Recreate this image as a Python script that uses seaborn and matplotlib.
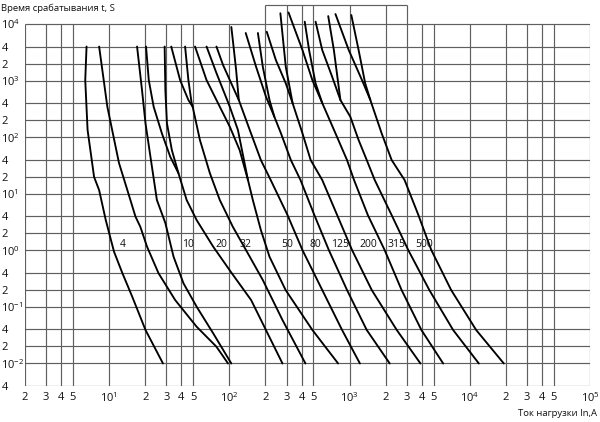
import matplotlib
matplotlib.use("Agg")
import matplotlib.pyplot as plt
from matplotlib.ticker import NullLocator
import pandas as pd
import seaborn as sns

sns.set_theme(style="white")
plt.rcParams['font.family'] = ['Open Sans', 'DejaVu Sans']
plt.rcParams['mathtext.fontset'] = 'custom'
plt.rcParams['mathtext.rm'] = 'Open Sans'

# time-current curves: load current In (A) vs operating time t (s)
c1_i = [6.5, 6.34, 6.63, 7.51, 8.27, 9.39, 11.0, 12.9, 15.6, 20.1, 28.1]
c1_t = [4000, 1020, 134, 19.8, 11.6, 3.43, 0.946, 0.397, 0.151, 0.0391, 0.01]
c2_i = [8.27, 9.68, 12.1, 14.2, 16.6, 18.2, 20.7, 25.8, 35.5, 53.5, 78.2, 97.7]
c2_t = [4000, 345, 34.9, 11.6, 3.93, 2.61, 1.16, 0.393, 0.132, 0.0447, 0.0198, 0.01]
c3_i = [17.1, 18.8, 20.1, 22.1, 25.0, 29.4, 34.4, 41.6, 53.5, 73.5, 104]
c3_t = [4000, 681, 176, 45, 7.75, 3.04, 0.771, 0.261, 0.101, 0.0341, 0.01]
c4_i = [20.3, 21.4, 23.5, 27.5, 32.3, 37.8, 44.2, 53.5, 73.5, 105, 152, 277]
c4_t = [4000, 1020, 345, 117, 45, 23, 7.75, 3.43, 1.16, 0.393, 0.132, 0.01]
c5_i = [32.9, 39.0, 45.7, 49.6, 57.0, 69.0, 83.4, 107, 148, 190, 277, 430]
c5_t = [4000, 1020, 454, 345, 89, 23, 7.75, 2.61, 0.771, 0.299, 0.0586, 0.01]
c6_i = [51.9, 64.7, 83.4, 101, 122, 143, 157, 183, 216, 294, 491, 804]
c6_t = [4000, 1020, 345, 153, 59, 17.5, 7.75, 2.29, 0.771, 0.199, 0.0391, 0.01]
c7_i = [78.2, 88.8, 120, 148, 183, 221, 305, 406, 593, 867, 1220]
c7_t = [4000, 1880, 454, 134, 39.5, 17.5, 4.2, 1.01, 0.199, 0.0391, 0.01]
c8_i = [137, 167, 202, 237, 269, 325, 391, 510, 673, 953, 1390, 2160]
c8_t = [6940, 1760, 519, 230, 117, 39.5, 17.5, 4.2, 1.01, 0.199, 0.0391, 0.01]
c9_i = [205, 244, 295, 336, 406, 475, 593, 789, 1050, 1530, 2470, 3890]
c9_t = [7300, 2310, 895, 402, 117, 39.5, 17.5, 4.2, 1.01, 0.199, 0.0391, 0.01]
c10_i = [311, 406, 491, 593, 764, 953, 1090, 1420, 1960, 2710, 3960, 6010]
c10_t = [16000, 3470, 1020, 402, 117, 39.5, 17.5, 4.2, 1.01, 0.199, 0.0391, 0.01]
c11_i = [522, 593, 717, 840, 1015, 1190, 1390, 1620, 2240, 3080, 4610, 7270, 11900]
c11_t = [11000, 3470, 1170, 454, 230, 89, 39.5, 17.5, 4.2, 1.01, 0.199, 0.0391, 0.01]
c12_i = [764, 985, 1270, 1490, 1850, 2240, 2870, 3740, 4790, 7000, 11300, 19200]
c12_t = [15000, 3470, 1020, 454, 117, 39.5, 17.5, 4.2, 1.01, 0.199, 0.0391, 0.01]

# steep upper branches joining the curves above
b4_i = [29.0, 29.4, 30.3, 33.3, 37.8]
b4_t = [4000, 681, 176, 59, 23]
b5_i = [42.9, 45.7, 48.6, 49.6]
b5_t = [4000, 1020, 402, 345]
b6_i = [64.7, 78.2, 101, 118, 143]
b6_t = [4000, 1360, 345, 134, 17.5]
b7_i = [104, 107, 114, 120]
b7_t = [8850, 5210, 1540, 454]
b8_i = [173, 190, 216, 237]
b8_t = [6940, 1760, 454, 230]
b9_i = [266, 295, 336]
b9_t = [15500, 1760, 402]
b10_i = [424, 461, 522, 593]
b10_t = [11000, 3470, 895, 402]
b11_i = [665, 741, 840]
b11_t = [13800, 3470, 454]
b12_i = [1035, 1190, 1350, 1490]
b12_t = [14400, 3470, 895, 454]

# curve labels
label_text = ['4', '10', '20', '32', '50', '80', '125', '200', '315', '500']
label_i = [12.9, 45.7, 85.6, 137, 305, 520, 835, 1420, 2470, 4200]
label_t = 1.27

# axis grid values
grid_x = [m * 10 ** k for k in range(0, 5) for m in (2, 3, 4, 5, 10)]
grid_y = [4e-3] + [m * 10 ** k for k in range(-2, 4) for m in (1, 2, 4)] + [1e4]


def tick_text(v):
    s = f"{v:.0e}"
    if s[0] != '1':
        return s[0]
    return '10$^{\\mathregular{' + str(int(s[2:])) + '}}$'


series = [(c1_i, c1_t), (c2_i, c2_t), (c3_i, c3_t), (c4_i, c4_t), (c5_i, c5_t),
          (c6_i, c6_t), (c7_i, c7_t), (c8_i, c8_t), (c9_i, c9_t), (c10_i, c10_t),
          (c11_i, c11_t), (c12_i, c12_t), (b4_i, b4_t), (b5_i, b5_t), (b6_i, b6_t),
          (b7_i, b7_t), (b8_i, b8_t), (b9_i, b9_t), (b10_i, b10_t), (b11_i, b11_t),
          (b12_i, b12_t)]
rows = []
for n, (xs, ts) in enumerate(series):
    for x, t in zip(xs, ts):
        rows.append({'I': x, 't': t, 'curve': n})
df = pd.DataFrame(rows)

fig = plt.figure(figsize=(6, 4.22), dpi=100)
ax = fig.add_axes([25 / 600, 36 / 422, 565 / 600, 386 / 422])
ax.set_xscale('log')
ax.set_yscale('log')
ax.set_xlim(2, 1e5)
ax.set_ylim(4e-3, 2.66e4)
for s in ax.spines.values():
    s.set_visible(False)

# grid (the block 200..3000 A is extended above 10^4 s)
box_top = 2.2e4
gcol = '#5f5f5f'
tops = [box_top if 200 <= x <= 3000 else 1e4 for x in grid_x]
ax.vlines(grid_x, 4e-3, tops, colors=gcol, lw=0.85, zorder=1)
ax.hlines(grid_y, 2, 1e5, colors=gcol, lw=0.85, zorder=1)
ax.hlines(box_top, 200, 3000, colors=gcol, lw=0.85, zorder=1)

sns.lineplot(data=df, x='I', y='t', units='curve', estimator=None, sort=False,
             color='black', linewidth=1.35, ax=ax, zorder=3)

for txt, x in zip(label_text, label_i):
    ax.text(x, label_t, txt, ha='center', va='center', fontsize=7.5, color='#111111',
            zorder=4)

ax.set_xticks(grid_x)
ax.set_xticklabels([tick_text(x) for x in grid_x])
ax.set_yticks(grid_y)
ax.set_yticklabels([tick_text(y) for y in grid_y])
ax.xaxis.set_minor_locator(NullLocator())
ax.yaxis.set_minor_locator(NullLocator())
ax.tick_params(length=0, labelsize=8, colors='#111111')
ax.tick_params(axis='x', pad=4)
ax.tick_params(axis='y', pad=17)
for lbl in ax.get_yticklabels():
    lbl.set_ha('left')
ax.set_xlabel('')
ax.set_ylabel('')

fig.text(1 / 600, 1 - 8 / 422, "Время срабатывания t, S", ha='left', va='center',
         fontsize=6.8, color='#111111')
fig.text(597 / 600, 1 - 413 / 422, "Ток нагрузки In,A", ha='right', va='center',
         fontsize=6.8, color='#111111')

fig.savefig('out.png', dpi=100)
